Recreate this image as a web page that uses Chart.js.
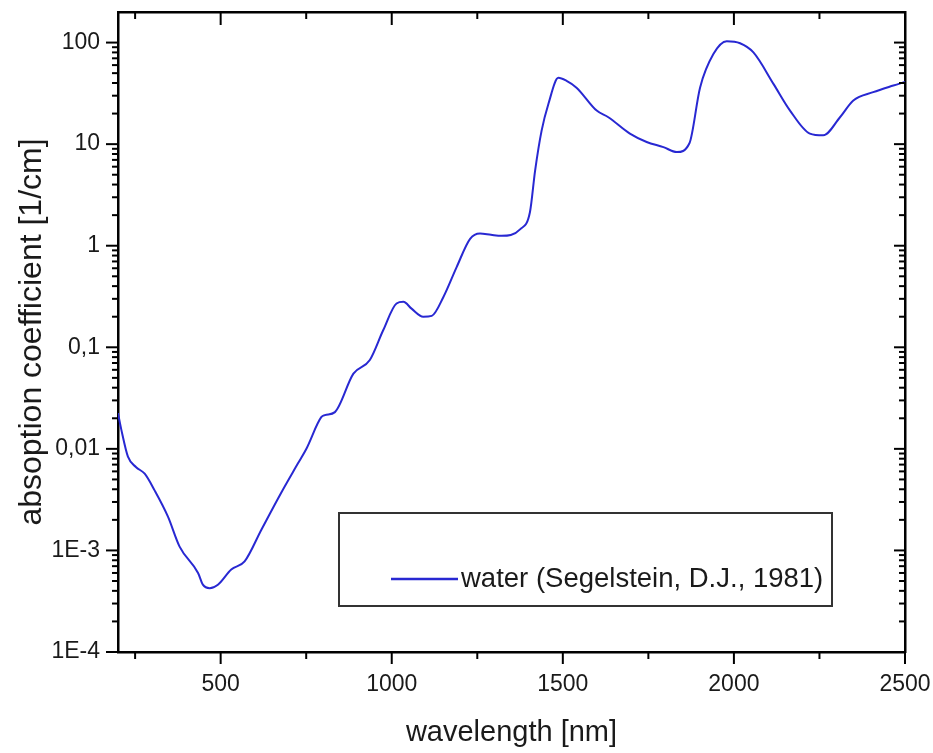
<!DOCTYPE html>
<html>
<head>
<meta charset="utf-8">
<script src="https://cdn.jsdelivr.net/npm/chart.js@4.4.0/dist/chart.umd.min.js"></script>
<style>
body { margin: 0; background: #fff; }
</style>
</head>
<body>
<canvas id="absorptie" width="933" height="753"></canvas>
<script>
// wavelength in nm, absorption coefficient in 1/cm
var wavelength = [200, 210, 229, 253, 278, 307, 346, 380, 434, 448, 468, 492, 531, 570, 619, 677, 726, 751,
    794, 805, 834, 888, 936, 975, 1014, 1034, 1058, 1092, 1117, 1151, 1190, 1229, 1258, 1290, 1321, 1375,
    1404, 1419, 1438, 1458, 1487, 1511, 1540, 1599, 1633, 1696, 1745, 1794, 1833, 1870, 1901, 1940, 1979,
    2018, 2057, 2116, 2164, 2222, 2261, 2310, 2349, 2407, 2466, 2500];
var absorption = [0.0225, 0.0153, 0.0084, 0.0066, 0.0057, 0.0039, 0.00215, 0.00109, 0.0006, 0.00046, 0.000425,
    0.00046, 0.00065, 0.00078, 0.0016, 0.0037, 0.0072, 0.0101, 0.0205, 0.0215, 0.023, 0.055, 0.075, 0.147,
    0.27, 0.28, 0.24, 0.2, 0.204, 0.313, 0.62, 1.17, 1.32, 1.28, 1.25, 1.45, 2.15, 5.5, 13.6, 25, 45, 42,
    36, 21.4, 18.4, 12.7, 10.5, 9.35, 8.35, 10.2, 36, 77, 103, 98.5, 80, 39, 21.4, 12.7, 12.2, 18.4, 26.9,
    32.5, 37.8, 41];

var xTicks = [500, 1000, 1500, 2000, 2500];
var xMinorTicks = [250, 750, 1250, 1750, 2250];
var yTicks = [1e-4, 1e-3, 0.01, 0.1, 1, 10, 100];
var yTickLabels = ['1E-4', '1E-3', '0,01', '0,1', '1', '10', '100'];

var lineColor = 'rgb(40, 40, 210)';
var textColor = '#1a1a1a';

// tick marks on all four sides (outward left/bottom, inward top/right)
var tickMarks = {
    id: 'tickMarks',
    afterDraw: function(chart) {
        var c = chart.ctx, a = chart.chartArea;
        var xs = chart.scales.x, ys = chart.scales.y;
        c.save();
        c.strokeStyle = '#000';
        c.lineWidth = 2;
        function mark(x1, y1, x2, y2) {
            c.beginPath(); c.moveTo(x1, y1); c.lineTo(x2, y2); c.stroke();
        }
        xTicks.forEach(function(v) {
            var p = xs.getPixelForValue(v);
            mark(p, a.bottom, p, a.bottom + 12);
            mark(p, a.top, p, a.top + 13);
        });
        xMinorTicks.forEach(function(v) {
            var p = xs.getPixelForValue(v);
            mark(p, a.bottom, p, a.bottom + 7);
            mark(p, a.top, p, a.top + 7);
        });
        yTicks.forEach(function(v) {
            var p = ys.getPixelForValue(v);
            mark(a.left - 12, p, a.left, p);
            mark(a.right, p, a.right - 11, p);
            for (var k = 2; k <= 9; k++) {
                var pm = ys.getPixelForValue(k * v);
                if (pm <= a.top + 1) continue;
                mark(a.left - 6, pm, a.left, pm);
                mark(a.right, pm, a.right - 6, pm);
            }
        });
        c.restore();
    }
};

// legend box inside the plot
var legendBox = {
    id: 'legendBox',
    afterDraw: function(chart) {
        var c = chart.ctx, a = chart.chartArea;
        var l = a.left + 221, t = a.top + 501, w = 493, h = 93;
        c.save();
        c.strokeStyle = '#333';
        c.lineWidth = 2;
        c.strokeRect(l, t, w, h);
        var ly = t + 66;
        c.strokeStyle = lineColor;
        c.lineWidth = 2.5;
        c.beginPath(); c.moveTo(l + 52, ly); c.lineTo(l + 119, ly); c.stroke();
        c.fillStyle = textColor;
        c.font = '27.5px "Liberation Sans", Arial, sans-serif';
        c.textBaseline = 'middle';
        c.fillText(chart.data.datasets[0].label, l + 122, ly);
        c.restore();
    }
};

// keep chart area fixed: no extra room for overhanging labels
function noPad(scale) {
    scale.paddingLeft = 0;
    scale.paddingRight = 0;
    scale.paddingTop = 0;
    scale.paddingBottom = 0;
}

var ctx = document.getElementById('absorptie').getContext('2d');
var chart = new Chart(ctx, {
    type: 'line',
    data: {
        labels: wavelength,
        datasets: [{
            label: 'water (Segelstein, D.J., 1981)',
            data: wavelength.map(function(w, i) { return {x: w, y: absorption[i]}; }),
            borderColor: lineColor,
            borderWidth: 2,
            pointRadius: 0,
            fill: false,
            cubicInterpolationMode: 'monotone',
            xAxisID: 'x',
            yAxisID: 'y'
        }]
    },
    options: {
        responsive: false,
        animation: false,
        layout: { padding: { left: 0, right: 28, top: 12, bottom: 0 } },
        plugins: {
            legend: { display: false },
            tooltip: { enabled: false }
        },
        scales: {
            x: {
                type: 'linear',
                position: 'bottom',
                min: 200,
                max: 2500,
                grid: { display: false, drawTicks: false },
                border: { display: true, color: '#000', width: 2.5 },
                afterBuildTicks: function(scale) {
                    scale.ticks = xTicks.map(function(v) { return {value: v}; });
                },
                afterFit: function(scale) { scale.height = 101; noPad(scale); },
                ticks: {
                    autoSkip: false,
                    maxRotation: 0,
                    padding: 19,
                    color: textColor,
                    font: { family: '"Liberation Sans", Arial', size: 23 },
                    callback: function(value) { return String(value); }
                },
                title: {
                    display: true,
                    text: 'wavelength [nm]',
                    color: textColor,
                    font: { family: '"Liberation Sans", Arial', size: 29 },
                    padding: { top: 0, bottom: 3 }
                }
            },
            x2: {
                type: 'linear',
                position: 'top',
                min: 200,
                max: 2500,
                grid: { display: false, drawTicks: false },
                border: { display: true, color: '#000', width: 2.5 },
                ticks: { display: false },
                afterFit: function(scale) { scale.height = 0; noPad(scale); }
            },
            y: {
                type: 'logarithmic',
                position: 'left',
                min: 1e-4,
                max: 200,
                grid: { display: false, drawTicks: false },
                border: { display: true, color: '#000', width: 2.5 },
                afterBuildTicks: function(scale) {
                    scale.ticks = yTicks.map(function(v) { return {value: v}; });
                },
                afterFit: function(scale) { scale.width = 118; noPad(scale); },
                ticks: {
                    autoSkip: false,
                    padding: 18,
                    color: textColor,
                    font: { family: '"Liberation Sans", Arial', size: 23 },
                    callback: function(value) {
                        var i = yTicks.indexOf(value);
                        return i >= 0 ? yTickLabels[i] : '';
                    }
                },
                title: {
                    display: true,
                    text: 'absoption coefficient [1/cm]',
                    color: textColor,
                    font: { family: '"Liberation Sans", Arial', size: 32 },
                    padding: { top: 13, bottom: 0 }
                }
            },
            y2: {
                type: 'logarithmic',
                position: 'right',
                min: 1e-4,
                max: 200,
                grid: { display: false, drawTicks: false },
                border: { display: true, color: '#000', width: 2.5 },
                ticks: { display: false },
                afterFit: function(scale) { scale.width = 0; noPad(scale); }
            }
        }
    },
    plugins: [tickMarks, legendBox]
});
</script>
</body>
</html>
